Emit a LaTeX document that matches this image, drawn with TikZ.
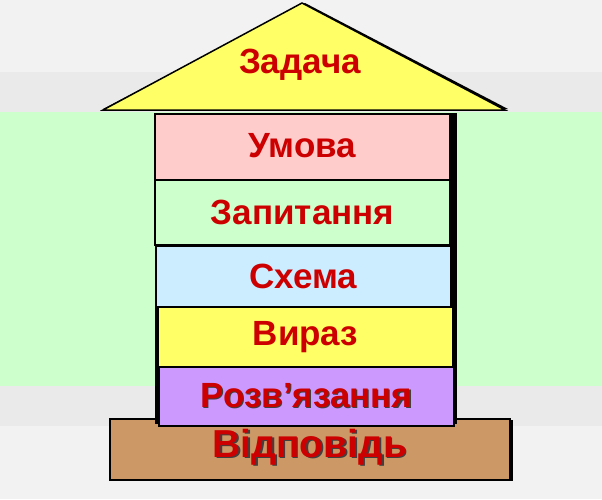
\documentclass[tikz,border=0pt]{standalone}
\usepackage{fontspec}
\setmainfont{Liberation Sans}
\newcommand{\shadowtext}[2]{\makebox[0pt][l]{\raisebox{-#1}{\hspace{#1}\textcolor{black!75}{#2}}}#2}
\begin{document}
\begin{tikzpicture}[x=1pt,y=-1pt,
  lbl/.style={text=txtred,font=\bfseries\fontsize{35}{35}\selectfont},
  biglbl/.style={text=txtred,font=\bfseries\fontsize{39}{39}\selectfont},
  layer/.style={draw=black,line width=1.5pt,minimum width=295pt,inner sep=0pt,outer sep=0pt}]
\definecolor{txtred}{HTML}{CC0000}
\definecolor{bgA}{HTML}{F2F2F2}
\definecolor{bgB}{HTML}{EAEAEA}
\definecolor{bgG}{HTML}{CCFFCC}
\definecolor{cPink}{HTML}{FFCCCC}
\definecolor{cBlue}{HTML}{CCECFF}
\definecolor{cYel}{HTML}{FFFF66}
\definecolor{cPur}{HTML}{CC99FF}
\definecolor{cBrown}{HTML}{CC9966}
% background bands
\fill[bgA] (0,0) rectangle (602,499);
\fill[bgB] (0,72) rectangle (602,112);
\fill[bgG] (0,112) rectangle (602,386);
\fill[bgB] (0,386) rectangle (602,426);
\useasboundingbox (0,0) rectangle (602,499);
% answer base
\fill[black] (113,420) rectangle (513,481);
\node[layer,fill=cBrown,minimum width=400pt,minimum height=61pt] (vidp) at (310,449.5) {};
% stack shadow
\fill[black] (155,113) rectangle (457,424);
% stack layers
\node[layer,fill=cPink,minimum height=66pt] (umova) at (302.5,147) {};
\node[layer,fill=bgG,minimum height=65pt] (zapyt) at (302.5,212.5) {};
\node[layer,fill=cBlue,minimum height=61pt] (skhema) at (303.5,276.5) {};
\node[layer,fill=cYel,minimum height=60pt] (vyraz) at (305.5,337) {};
\node[layer,fill=cPur,minimum height=59pt] (rozv) at (306.5,396.5) {};
% roof
\coordinate (apex) at (302,3);
\coordinate (bl) at (103,110);
\coordinate (br) at (505,110);
\fill[black] ([xshift=3pt]apex) -- ([xshift=3pt,yshift=1pt]br) -- ([yshift=1pt]bl) -- cycle;
\draw[line width=1.5pt,fill=cYel,line join=miter] (apex) -- (br) -- (bl) -- cycle;
% labels
\node[lbl] (tZad) at (300,65) {Задача};
\node[lbl] (tUm) at ([yshift=1pt]umova.center) {Умова};
\node[lbl] (tZap) at (zapyt.center) {Запитання};
\node[lbl] (tSkh) at (skhema.center) {Схема};
\node[lbl] (tVyr) at (vyraz.center) {Вираз};
\node[lbl] (tRoz) at (rozv.center) {\shadowtext{1.2pt}{Розв’язання}};
\node[biglbl] (tVid) at ([yshift=2pt]vidp.center) {\shadowtext{1.5pt}{Відповідь}};
\end{tikzpicture}
\end{document}
